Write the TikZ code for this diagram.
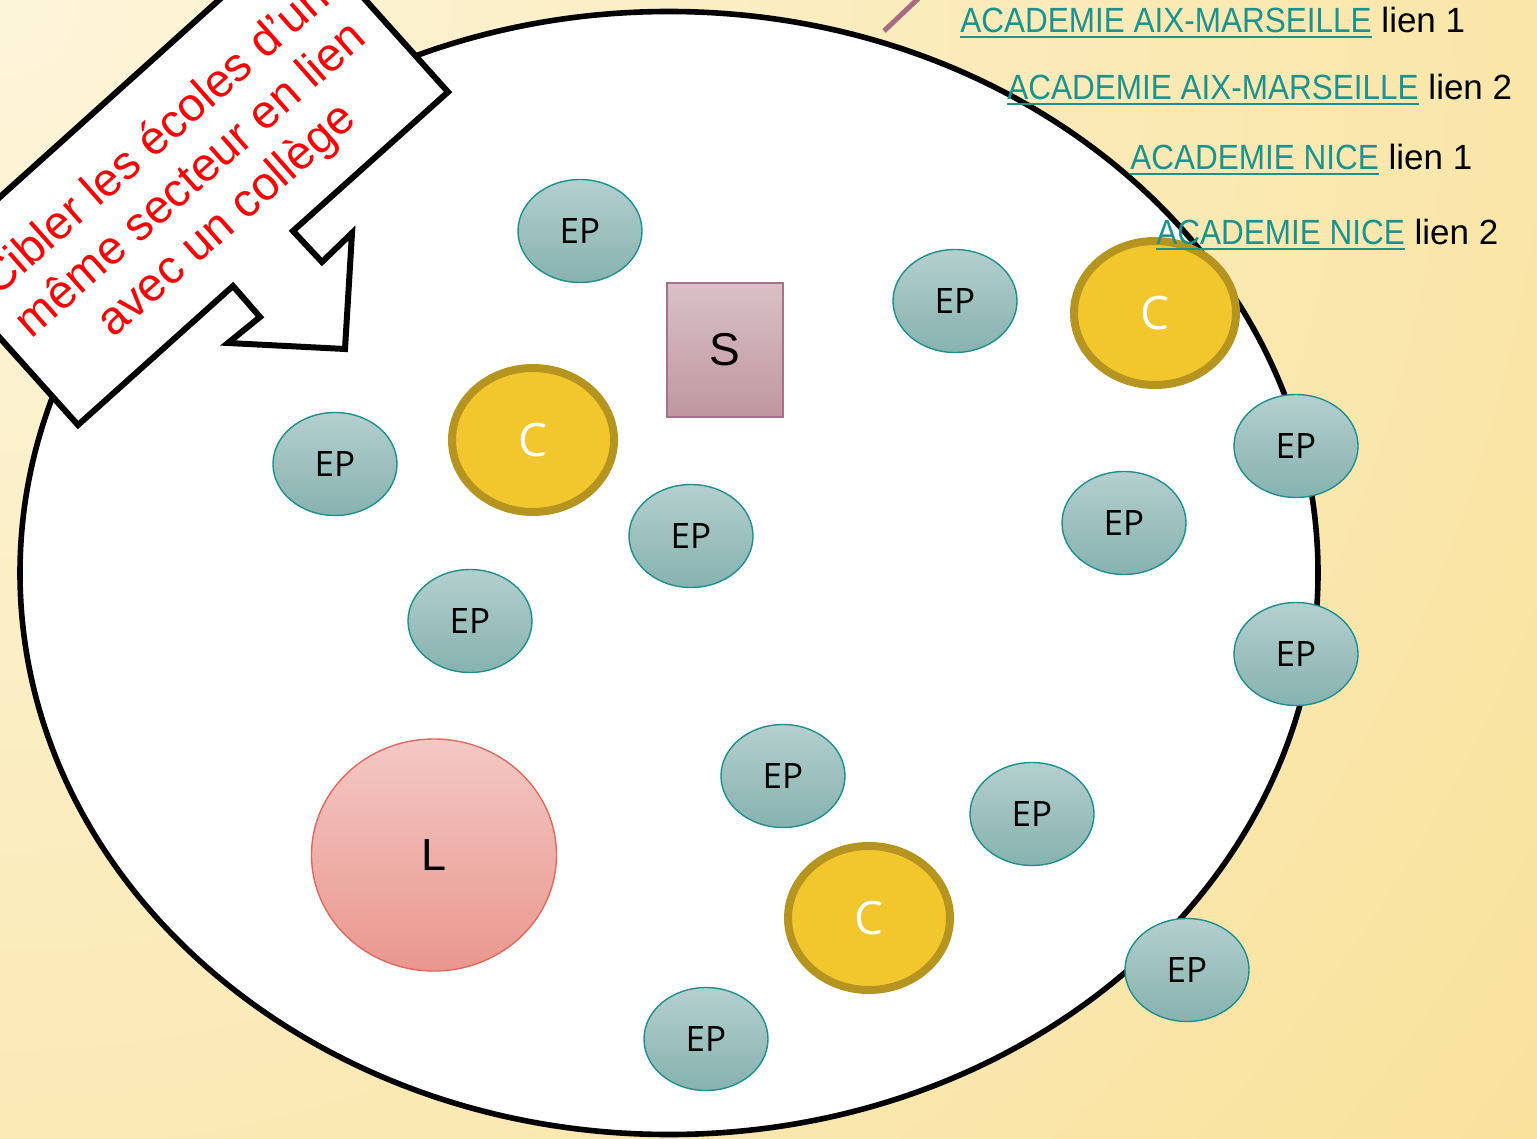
\documentclass[tikz,border=0pt]{standalone}
\usepackage{fontspec}
\setmainfont{Open Sans}
\newfontfamily\arialf{Liberation Sans}
\newfontfamily\narrowf[FakeStretch=0.9]{Liberation Sans}
\usetikzlibrary{shapes.geometric}
\definecolor{bgA}{HTML}{FDF5DB}
\definecolor{bgB}{HTML}{F9E29C}
\definecolor{epTop}{HTML}{B4CFCF}
\definecolor{epBot}{HTML}{86B2AF}
\definecolor{epLine}{HTML}{1E8F8F}
\definecolor{cFill}{HTML}{F2C62D}
\definecolor{cLine}{HTML}{B5951F}
\definecolor{sTop}{HTML}{D8C1C7}
\definecolor{sBot}{HTML}{C096A1}
\definecolor{sLine}{HTML}{A8708A}
\definecolor{lTop}{HTML}{F3C8C5}
\definecolor{lBot}{HTML}{EA978E}
\definecolor{lLine}{HTML}{E0685C}
\definecolor{linkC}{HTML}{1B9290}
\definecolor{pinkLine}{HTML}{A86B80}
\newcommand\ulk[1]{\setbox0\hbox{#1}\rlap{\rule[-2.5pt]{\wd0}{1pt}}\box0}
\begin{document}
\begin{tikzpicture}[x=0.5pt,y=-0.5pt,
  ep/.style={ellipse, draw=epLine, line width=0.7pt, top color=epTop, bottom color=epBot,
    minimum width=62pt, minimum height=51.5pt, inner sep=0pt, font=\fontsize{17.5}{20}\selectfont},
  coll/.style={ellipse, draw=cLine, line width=4pt, fill=cFill, text=white,
    minimum width=81pt, minimum height=72pt, inner sep=0pt, font=\fontsize{23}{26}\selectfont},
  sbox/.style={rectangle, draw=sLine, line width=0.6pt, top color=sTop, bottom color=sBot,
    minimum width=58pt, minimum height=67pt, inner sep=0pt, font=\arialf\fontsize{23}{26}\selectfont},
  lyc/.style={ellipse, draw=lLine, line width=0.7pt, top color=lTop, bottom color=lBot,
    minimum width=122.5pt, minimum height=116pt, inner sep=0pt, font=\arialf\fontsize{22.5}{26}\selectfont},
  lnk/.style={anchor=base west, inner sep=0pt, font=\arialf\fontsize{17.5}{20}\selectfont},
  callout/.style={line width=3pt, draw=black, fill=white, line join=miter},
  pinkseg/.style={draw=pinkLine, line width=2.5pt}
]
\useasboundingbox (0,0) rectangle (1537,1139);
\clip (0,0) rectangle (1537,1139);
\fill[bgB] (0,0) rectangle (1537,1139);
\shade[inner color=bgA, outer color=bgB] (0,0) circle[radius=1900];

% sector
\node[ellipse, draw=black, line width=2.8pt, fill=white, minimum width=649pt,
  minimum height=561.5pt, inner sep=0pt] (sector) at (669,573) {};

% pink segment at top
\coordinate (pinkA) at (884,31);
\coordinate (pinkB) at (922,-5);
\draw[pinkseg] (pinkA) -- (pinkB);

% callout
\draw[callout] (448,92) -- (293,231) -- (322,262) -- (352,233) -- (345,349)
  -- (228,343) -- (260,317) -- (233,286) -- (78,425) -- (-70,260) -- (300,-73) -- cycle;
\node[rotate=41.5, text=red, align=center, font=\arialf\fontsize{23.5}{27}\selectfont]
  (callouttext) at (192,181) {Cibler les écoles d’un\\même secteur en lien\\avec un collège};

% schools
\node[ep] (ep1) at (580,231) {EP};
\node[ep] (ep2) at (955,301) {EP};
\node[ep] (ep3) at (335,464) {EP};
\node[ep] (ep4) at (691,536) {EP};
\node[ep] (ep5) at (470,621) {EP};
\node[ep] (ep6) at (1124,523) {EP};
\node[ep] (ep7) at (1296,446) {EP};
\node[ep] (ep8) at (1296,654) {EP};
\node[ep] (ep9) at (783,776) {EP};
\node[ep] (ep10) at (1032,814) {EP};
\node[ep] (ep11) at (1187,970) {EP};
\node[ep] (ep12) at (706,1039) {EP};

\node[coll] (c1) at (533,440) {C};
\node[coll] (c2) at (1155,313) {C};
\node[coll] (c3) at (869,918) {C};

\node[sbox] (s) at (725,350) {S};
\node[lyc] (l) at (434,855) {L};

% links
\node[lnk] (link1) at (960,33) {\textcolor{linkC}{\narrowf\ulk{ACADEMIE AIX-MARSEILLE}} lien 1};
\node[lnk] (link2) at (1007,100) {\textcolor{linkC}{\narrowf\ulk{ACADEMIE AIX-MARSEILLE}} lien 2};
\node[lnk] (link3) at (1130,170) {\textcolor{linkC}{\narrowf\ulk{ACADEMIE NICE}} lien 1};
\node[lnk] (link4) at (1156,245) {\textcolor{linkC}{\narrowf\ulk{ACADEMIE NICE}} lien 2};
\end{tikzpicture}
\end{document}
